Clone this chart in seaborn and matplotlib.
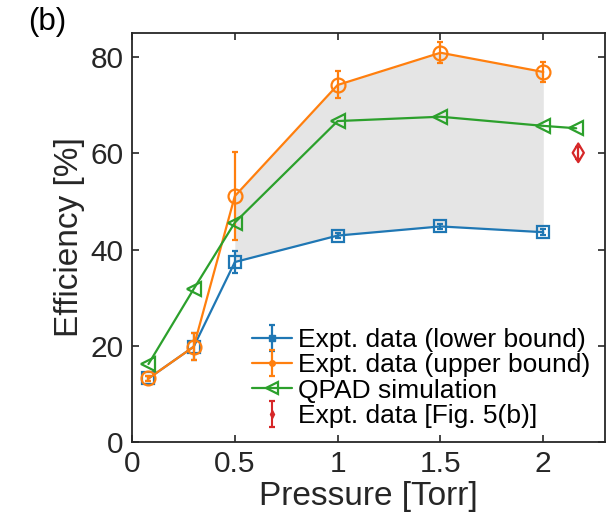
import numpy as np
import pandas as pd
import matplotlib
matplotlib.use("Agg")
import matplotlib.pyplot as plt
import seaborn as sns

# ---- data ----
pressure = [0.08, 0.3, 0.5, 1.0, 1.5, 2.0]
lower_eff = [13.2, 19.8, 37.4, 42.9, 44.8, 43.6]
lower_err = [0.6, 2.8, 2.2, 0.6, 0.6, 0.6]
upper_eff = [13.2, 19.8, 51.1, 74.2, 80.9, 76.9]
upper_err = [0.6, 2.8, 9.1, 2.8, 2.2, 2.0]
sim_pressure = [0.08, 0.3, 0.5, 1.0, 1.5, 2.0, 2.16]
sim_eff = [16.2, 31.8, 45.6, 66.7, 67.6, 65.7, 65.2]
fig5_pressure = [2.17]
fig5_eff = [60.1]
fig5_err = [1.2]
shade_start = 0.5

labels = ["Expt. data (lower bound)", "Expt. data (upper bound)",
          "QPAD simulation", "Expt. data [Fig. 5(b)]"]

blue, orange, green, red = "#1f77b4", "#ff7f0e", "#2ca02c", "#d62728"

sns.set_theme(style="ticks")
plt.rcParams["font.family"] = ["Liberation Sans", "DejaVu Sans"]

fig = plt.figure(figsize=(6.15, 5.2), dpi=100)
ax = fig.add_axes([132/615, 1-442/520, (605-132)/615, (442-33)/520])

dfl = pd.DataFrame({"p": pressure, "lo": lower_eff, "hi": upper_eff})
mask = dfl["p"] >= shade_start
ax.fill_between(dfl["p"][mask], dfl["lo"][mask], dfl["hi"][mask],
                color="#e5e5e5", lw=0, zorder=0)

lw = 1.6
# lower bound
sns.lineplot(x=pressure, y=lower_eff, ax=ax, color=blue, lw=lw, marker="s",
             markersize=9, markerfacecolor="none", markeredgecolor=blue,
             markeredgewidth=1.6, zorder=3)
ax.errorbar(pressure, lower_eff, yerr=lower_err, fmt="none", ecolor=blue,
            elinewidth=1.6, capsize=2.5, capthick=1.6, zorder=3)
# upper bound
sns.lineplot(x=pressure, y=upper_eff, ax=ax, color=orange, lw=lw, marker="o",
             markersize=10, markerfacecolor="none", markeredgecolor=orange,
             markeredgewidth=1.6, zorder=4)
ax.errorbar(pressure, upper_eff, yerr=upper_err, fmt="none", ecolor=orange,
            elinewidth=1.6, capsize=2.5, capthick=1.6, zorder=4)
# simulation
sns.lineplot(x=sim_pressure, y=sim_eff, ax=ax, color=green, lw=lw, marker="<",
             markersize=10, markerfacecolor="none", markeredgecolor=green,
             markeredgewidth=1.6, zorder=5)
# fig 5(b)
sns.scatterplot(x=fig5_pressure, y=fig5_eff, ax=ax, marker="d", s=90,
                facecolor="none", edgecolor=red, linewidth=1.6, zorder=6)
ax.errorbar(fig5_pressure, fig5_eff, yerr=fig5_err, fmt="none", ecolor=red,
            elinewidth=1.6, capsize=2.0, capthick=1.6, zorder=6)

# legend proxies
h1 = ax.errorbar([np.nan], [np.nan], yerr=[1], fmt="-s", color=blue, lw=1.6,
                 markersize=4, capsize=2.5, capthick=1.6)
h2 = ax.errorbar([np.nan], [np.nan], yerr=[1], fmt="-o", color=orange, lw=1.6,
                 markersize=4, capsize=2.5, capthick=1.6)
h3, = ax.plot([np.nan], [np.nan], "-<", color=green, lw=1.6, markersize=9,
              markerfacecolor="none", markeredgewidth=1.6)
h4 = ax.errorbar([np.nan], [np.nan], yerr=[1], fmt="d", color=red,
                 markersize=4, capsize=2.5, capthick=1.6)
leg = fig.legend([h1, h2, h3, h4], labels, loc="lower left",
                 bbox_to_anchor=(252/615, 1-428/520), frameon=False,
                 fontsize=19, handlelength=1.5, handletextpad=0.25,
                 labelspacing=0.05, borderpad=0, borderaxespad=0)
for t in leg.get_texts():
    t.set_color("black")

ax.set_xlim(0, 2.3)
ax.set_ylim(0, 85)
ax.set_xticks([0, 0.5, 1, 1.5, 2])
ax.set_xticklabels(["0", "0.5", "1", "1.5", "2"])
ax.set_yticks([0, 20, 40, 60, 80])
ax.tick_params(direction="in", length=5, width=1.2, top=True, right=True,
               labelsize=21.5, colors="#262626", pad=6)
for s in ax.spines.values():
    s.set_linewidth(1.3)
    s.set_color("#262626")
    s.set_visible(True)
ax.set_xlabel("Pressure [Torr]", fontsize=24, color="#262626", labelpad=2)
ax.set_ylabel("Efficiency [%]", fontsize=24, color="#262626", labelpad=4)
fig.text(28/615, 1-22/520, "(b)", fontsize=22.5, va="center", ha="left",
         color="black")

fig.savefig("out.png", dpi=100)
